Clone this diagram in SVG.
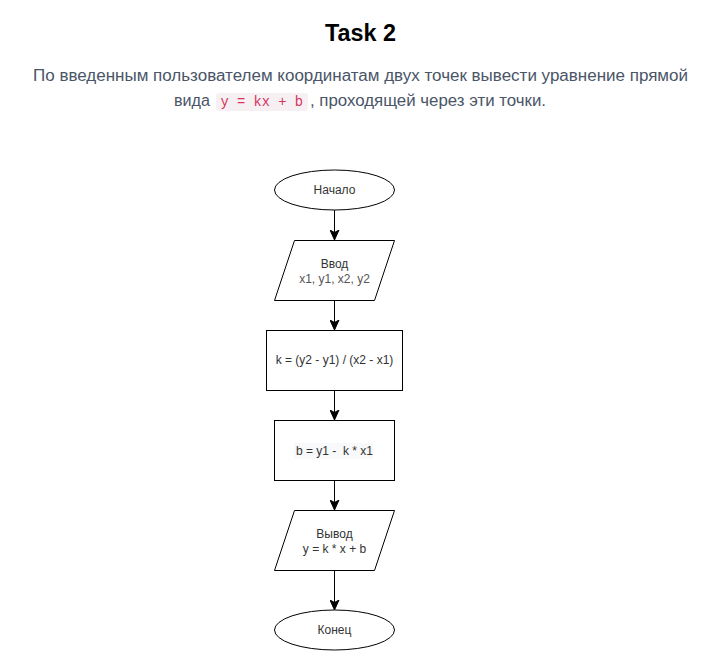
<svg xmlns="http://www.w3.org/2000/svg" width="721" height="651" viewBox="0 0 721 651">
  <defs>
    <style>
      .shape { fill: #ffffff; stroke: #000000; stroke-width: 1; }
      .lbl { font-family: "Liberation Sans", Arial, sans-serif; font-size: 12px; fill: #333333; text-anchor: middle; }
      .lbl2 { fill: #555555; }
      .conn { stroke: #000000; stroke-width: 1; fill: none; marker-end: url(#arrow); }
      .para { font-family: "Liberation Sans", Arial, sans-serif; font-size: 16px; fill: #4a5568; }
      .code { font-family: "Liberation Mono", "Courier New", monospace; font-size: 14px; fill: #d6335c; }
    </style>
    <marker id="arrow" markerUnits="userSpaceOnUse" markerWidth="12" markerHeight="10" viewBox="0 0 12 10" refX="10" refY="5" orient="auto">
      <path d="M0,0.5 L10,5 L0,9.5 L2.5,5 Z" fill="#000000" stroke="#000000" stroke-width="1"/>
    </marker>
  </defs>
  <rect x="0" y="0" width="721" height="651" fill="#ffffff"/>

  <g id="header">
    <text x="360.5" y="41" font-family="Liberation Sans, Arial, sans-serif" font-size="23" font-weight="bold" fill="#000000" text-anchor="middle" textLength="71" lengthAdjust="spacingAndGlyphs">Task 2</text>
    <text class="para" x="33" y="81" textLength="655" lengthAdjust="spacingAndGlyphs">По введенным пользователем координатам двух точек вывести уравнение прямой</text>
    <text class="para" x="174" y="106" textLength="36" lengthAdjust="spacingAndGlyphs">вида</text>
    <rect x="216" y="93" width="92" height="18" rx="3" fill="#f7f0f3"/>
    <text class="code" x="220.5" y="106" textLength="82.5" lengthAdjust="spacingAndGlyphs" xml:space="preserve">y = kx + b</text>
    <text class="para" x="310" y="106" textLength="236" lengthAdjust="spacingAndGlyphs">, проходящей через эти точки.</text>
  </g>

  <g id="connectors">
    <line class="conn" x1="334.5" y1="210" x2="334.5" y2="240"/>
    <line class="conn" x1="334.5" y1="300" x2="334.5" y2="330"/>
    <line class="conn" x1="334.5" y1="390" x2="334.5" y2="420"/>
    <line class="conn" x1="334.5" y1="480" x2="334.5" y2="510"/>
    <line class="conn" x1="334.5" y1="570" x2="334.5" y2="610"/>
  </g>

  <g id="start">
    <ellipse class="shape" cx="334.5" cy="190" rx="60" ry="20"/>
    <text class="lbl" x="334.5" y="194">Начало</text>
  </g>

  <g id="input">
    <polygon class="shape" points="294.5,240.5 394.5,240.5 374.5,300.5 274.5,300.5"/>
    <text class="lbl" x="334.5" y="268">Ввод</text>
    <text class="lbl lbl2" x="334.5" y="283">x1, y1, x2, y2</text>
  </g>

  <g id="calc-k">
    <rect class="shape" x="266.5" y="330.5" width="136" height="60"/>
    <text class="lbl" x="334.5" y="364">k = (y2 - y1) / (x2 - x1)</text>
  </g>

  <g id="calc-b">
    <rect class="shape" x="274.5" y="420.5" width="120" height="60"/>
    <rect x="294" y="443" width="79" height="16" fill="#f8f9fa"/>
    <text class="lbl" x="334.5" y="455" xml:space="preserve">b = y1 -  k * x1</text>
  </g>

  <g id="output">
    <polygon class="shape" points="294.5,510.5 394.5,510.5 374.5,570.5 274.5,570.5"/>
    <text class="lbl" x="334.5" y="538">Вывод</text>
    <text class="lbl" x="334.5" y="553">y = k * x + b</text>
  </g>

  <g id="end">
    <ellipse class="shape" cx="334.5" cy="630" rx="60" ry="20"/>
    <text class="lbl" x="334.5" y="634">Конец</text>
  </g>
</svg>
